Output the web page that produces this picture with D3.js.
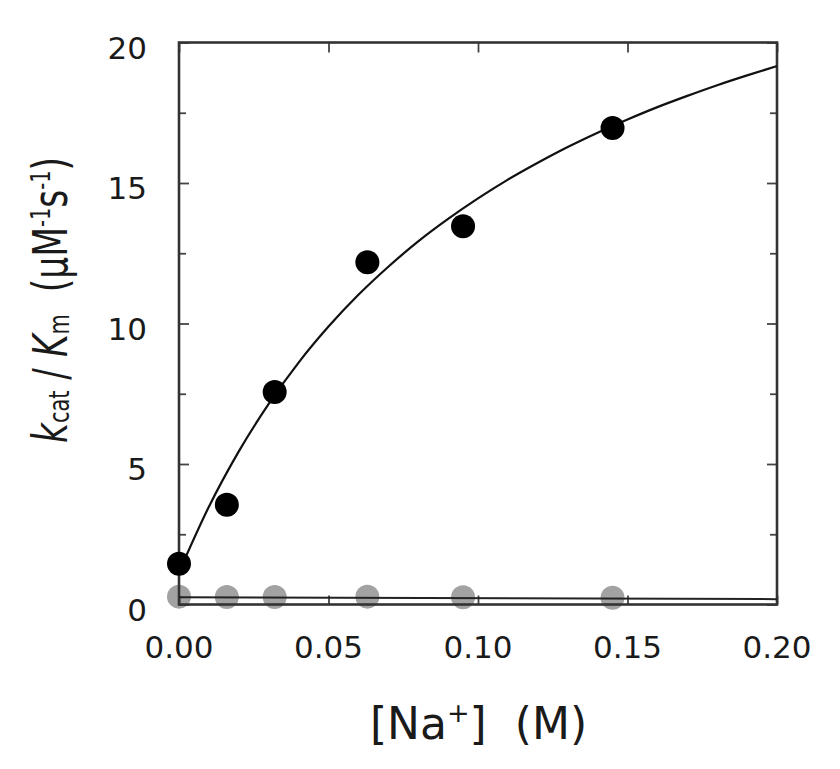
<!DOCTYPE html>
<html>
<head>
<meta charset="utf-8">
<script src="https://cdn.jsdelivr.net/npm/d3@7/dist/d3.min.js"></script>
<style>
  html, body { margin: 0; padding: 0; background: #fff; }
  svg text { font-family: "DejaVu Sans", Verdana, sans-serif; fill: #1a1a1a; white-space: pre; }
</style>
</head>
<body>
<svg id="chart" width="840" height="769"></svg>
<script>
// ---- data ----
const naConc      = [0.0, 0.016, 0.032, 0.063, 0.095, 0.145];
const withNa      = [1.45, 3.55, 7.56, 12.18, 13.46, 16.96];
const controlVals = [0.28, 0.27, 0.27, 0.28, 0.26, 0.24];

// fitted curve
const fitX = [0.00, 0.01, 0.02, 0.03, 0.04, 0.05, 0.06, 0.07, 0.08, 0.09, 0.10,
              0.11, 0.12, 0.13, 0.14, 0.15, 0.16, 0.17, 0.18, 0.19, 0.20];
const fitY = [1.15, 3.48, 5.45, 7.14, 8.61, 9.89, 11.02, 12.02, 12.92, 13.72, 14.45,
              15.12, 15.72, 16.28, 16.79, 17.26, 17.70, 18.10, 18.48, 18.83, 19.16];

const ctrlFitX = [0.0, 0.2];
const ctrlFitY = [0.26, 0.19];

const xTicks = [0.00, 0.05, 0.10, 0.15, 0.20];
const yTicks = [0, 5, 10, 15, 20];
const yMinorTicks = [2.5, 7.5, 12.5, 17.5];

// ---- layout ----
const svg = d3.select("#chart");
const mLeft = 179, mRight = 777, mTop = 42.5, mBottom = 604.5;
const x = d3.scaleLinear().domain([0, 0.2]).range([mLeft, mRight]);
const y = d3.scaleLinear().domain([0, 20]).range([mBottom, mTop]);
const frameColor = "#333";

// gray control points (under frame)
svg.append("g").selectAll("circle").data(naConc).join("circle")
  .attr("cx", d => x(d)).attr("cy", (d, i) => y(controlVals[i]))
  .attr("r", 12).attr("fill", "#a2a2a2");

// ticks via d3 axes (inside)
const axL = d3.axisLeft(y).tickValues(yTicks).tickSize(-10).tickFormat("");
const axLm = d3.axisLeft(y).tickValues(yMinorTicks).tickSize(-7).tickFormat("");
const axR = d3.axisRight(y).tickValues(yTicks).tickSize(-10).tickFormat("");
const axRm = d3.axisRight(y).tickValues(yMinorTicks).tickSize(-7).tickFormat("");
const axB = d3.axisBottom(x).tickValues(xTicks).tickSize(-9).tickFormat("");
const axT = d3.axisTop(x).tickValues(xTicks).tickSize(-10).tickFormat("");

function styleAxis(g) {
  g.select(".domain").remove();
  g.selectAll(".tick line").attr("stroke", "#444").attr("stroke-width", 1.8);
}
svg.append("g").attr("transform", `translate(${mLeft},0)`).call(axL).call(styleAxis);
svg.append("g").attr("transform", `translate(${mLeft},0)`).call(axLm).call(styleAxis);
svg.append("g").attr("transform", `translate(${mRight},0)`).call(axR).call(styleAxis);
svg.append("g").attr("transform", `translate(${mRight},0)`).call(axRm).call(styleAxis);
svg.append("g").attr("transform", `translate(0,${mBottom})`).call(axB).call(styleAxis);
svg.append("g").attr("transform", `translate(0,${mTop})`).call(axT).call(styleAxis);

// frame
svg.append("rect").attr("x", mLeft).attr("y", mTop)
  .attr("width", mRight - mLeft).attr("height", mBottom - mTop)
  .attr("fill", "none").attr("stroke", frameColor).attr("stroke-width", 2.6);

// control fit line
const line = d3.line().x(d => x(d[0])).y(d => y(d[1]));
svg.append("path").datum(ctrlFitX.map((v, i) => [v, ctrlFitY[i]]))
  .attr("d", line).attr("fill", "none").attr("stroke", "#222").attr("stroke-width", 2);

// fitted curve
svg.append("path").datum(fitX.map((v, i) => [v, fitY[i]]))
  .attr("d", d3.line().curve(d3.curveMonotoneX).x(d => x(d[0])).y(d => y(d[1])))
  .attr("fill", "none").attr("stroke", "#111").attr("stroke-width", 2.2);

// black points
svg.append("g").selectAll("circle").data(naConc).join("circle")
  .attr("cx", d => x(d)).attr("cy", (d, i) => y(withNa[i]))
  .attr("r", 12).attr("fill", "#000");

// tick labels
svg.append("g").selectAll("text").data(yTicks).join("text")
  .attr("x", 147).attr("y", d => y(d) + 5)
  .attr("text-anchor", "end").attr("dominant-baseline", "central")
  .attr("font-size", 31).text(d => d);
svg.append("g").selectAll("text").data(xTicks).join("text")
  .attr("x", d => x(d)).attr("y", 658)
  .attr("text-anchor", "middle")
  .attr("font-size", 31).text(d => d3.format(".2f")(d));

// x title
const xt = svg.append("text").attr("x", 478.5).attr("y", 739)
  .attr("text-anchor", "middle").attr("font-size", 44);
xt.append("tspan").text("[Na");
xt.append("tspan").attr("font-size", 27).attr("dy", -17).text("+");
xt.append("tspan").attr("dy", 17).text("]  (M)");

// y title (glyphs taller than wide in the reference)
const yt = svg.append("text").attr("transform", "translate(67,300) rotate(-90)")
  .attr("text-anchor", "middle").attr("font-size", 48)
  .attr("textLength", 286).attr("lengthAdjust", "spacingAndGlyphs");
yt.append("tspan").attr("font-style", "italic").text("k");
yt.append("tspan").attr("font-size", 29).attr("dy", 2).text("cat");
yt.append("tspan").attr("dy", -2).text(" / ");
yt.append("tspan").attr("font-style", "italic").text("K");
yt.append("tspan").attr("font-size", 29).attr("dy", 2).text("m");
yt.append("tspan").attr("dy", -2).text("  (μM");
yt.append("tspan").attr("font-size", 27).attr("dy", -17).text("-1");
yt.append("tspan").attr("dy", 17).text("s");
yt.append("tspan").attr("font-size", 27).attr("dy", -17).text("-1");
yt.append("tspan").attr("dy", 17).text(")");
</script>
</body>
</html>
